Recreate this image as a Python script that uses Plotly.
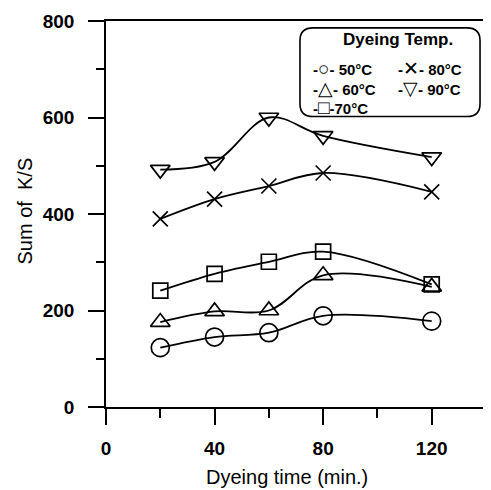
import plotly.graph_objects as go

# ---- data ----
dye_time = [20, 40, 60, 80, 120]
temps = ["50°C", "60°C", "70°C", "80°C", "90°C"]
ks_50 = [123, 145, 154, 189, 178]
ks_60 = [176, 198, 200, 273, 249]
ks_70 = [241, 276, 301, 322, 254]
ks_80 = [390, 431, 458, 485, 446]
ks_90 = [492, 508, 600, 562, 518]

x_ticks = [0, 40, 80, 120]
y_ticks = [0, 200, 400, 600, 800]

series = [
    (ks_50, "circle-open", 18, "○"),
    (ks_60, "triangle-up-open", 17, "△"),
    (ks_70, "square-open", 15, "□"),
    (ks_80, "x-thin-open", 15, "✕"),
    (ks_90, "triangle-down-open", 17, "▽"),
]

FONT = "Liberation Sans, Arial, Helvetica, sans-serif"
OFF = 8  # page body margin

fig = go.Figure()
for (vals, sym, sz, glyph), name in zip(series, temps):
    fig.add_trace(go.Scatter(
        x=dye_time, y=vals, name=name, mode="lines+markers",
        line=dict(color="black", width=1.8, shape="spline", smoothing=1.0),
        marker=dict(symbol=sym, size=sz, color="black",
                    line=dict(color="black", width=1.7)),
        showlegend=False,
    ))

# plot area in window pixels: x 106..488, y 15..407
L, R, T, B = 106, 488, 15, 407
W, H = R - L, B - T
FW, FH = 491 - OFF, 490 - OFF


def px(xp):
    return (xp - L) / W


def py(yp):
    return 1 - (yp - T) / H


def entry(i):
    sep = " " if i != 2 else ""
    return (f"<b>-</b><span style='font-size:19px'>{series[i][3]}</span>"
            f"<b>-{sep}{temps[i]}</b>")


annotations = []
# legend title
annotations.append(dict(x=px(400), y=py(34), xref="paper", yref="paper",
                        text="<b>Dyeing Temp.</b>", showarrow=False,
                        xanchor="center", yanchor="middle",
                        font=dict(family=FONT, size=17, color="black")))
# legend entries: two columns
annotations.append(dict(
    x=px(312), y=py(83), xref="paper", yref="paper",
    text="<br>".join(entry(i) for i in (0, 1, 2)), align="left",
    showarrow=False, xanchor="left", yanchor="middle",
    font=dict(family=FONT, size=15, color="black")))
annotations.append(dict(
    x=px(398), y=py(73.5), xref="paper", yref="paper",
    text="<br>".join(entry(i) for i in (3, 4)), align="left",
    showarrow=False, xanchor="left", yanchor="middle",
    font=dict(family=FONT, size=15, color="black")))

# axis titles
annotations.append(dict(x=px(288), y=py(478), xref="paper", yref="paper",
                        text="Dyeing time (min.)", showarrow=False,
                        xanchor="center", yanchor="middle",
                        font=dict(family=FONT, size=20, color="black")))
annotations.append(dict(x=px(25), y=py(208), xref="paper", yref="paper",
                        text="Sum of\u00a0 K/S", showarrow=False, textangle=-90,
                        xanchor="center", yanchor="middle",
                        font=dict(family=FONT, size=20, color="black")))

# rounded legend box
x0, x1 = px(301), px(482)
y0, y1 = py(112), py(22)
rx, ry = 13 / W, 13 / H
path = (f"M{x0+rx},{y1} L{x1-rx},{y1} Q{x1},{y1} {x1},{y1-ry} "
        f"L{x1},{y0+ry} Q{x1},{y0} {x1-rx},{y0} L{x0+rx},{y0} "
        f"Q{x0},{y0} {x0},{y0+ry} L{x0},{y1-ry} Q{x0},{y1} {x0+rx},{y1} Z")

fig.update_layout(
    width=FW, height=FH,
    margin=dict(l=L - OFF, r=491 - R, t=T - OFF, b=490 - B),
    paper_bgcolor="white", plot_bgcolor="white",
    font=dict(family=FONT, color="black"),
    annotations=annotations,
    shapes=[dict(type="path", path=path, xref="paper", yref="paper",
                 line=dict(color="black", width=1.6), fillcolor="white",
                 layer="above")],
)
fig.update_xaxes(
    range=[0, 140], tickvals=x_ticks, ticktext=[str(v) for v in x_ticks],
    showgrid=False, zeroline=False, showline=True, linecolor="black",
    linewidth=1.6, mirror=True, ticks="outside", ticklen=16, tickwidth=1.6,
    tickcolor="black", ticklabelstandoff=7, ticklabeloverflow="allow",
    tickfont=dict(family=FONT, size=19, color="black", weight="bold"),
    minor=dict(tick0=0, dtick=20, ticks="outside", ticklen=9, tickwidth=1.6,
               tickcolor="black"),
)
fig.update_yaxes(
    range=[0, 800], tickvals=y_ticks, ticktext=[str(v) for v in y_ticks],
    showgrid=False, zeroline=False, showline=True, linecolor="black",
    linewidth=1.6, mirror=True, ticks="outside", ticklen=16, tickwidth=1.6,
    tickcolor="black", ticklabelstandoff=10, ticklabeloverflow="allow",
    tickfont=dict(family=FONT, size=19, color="black", weight="bold"),
    minor=dict(tick0=0, dtick=100, ticks="outside", ticklen=8, tickwidth=1.6,
               tickcolor="black"),
)

fig.write_html("out.html")
